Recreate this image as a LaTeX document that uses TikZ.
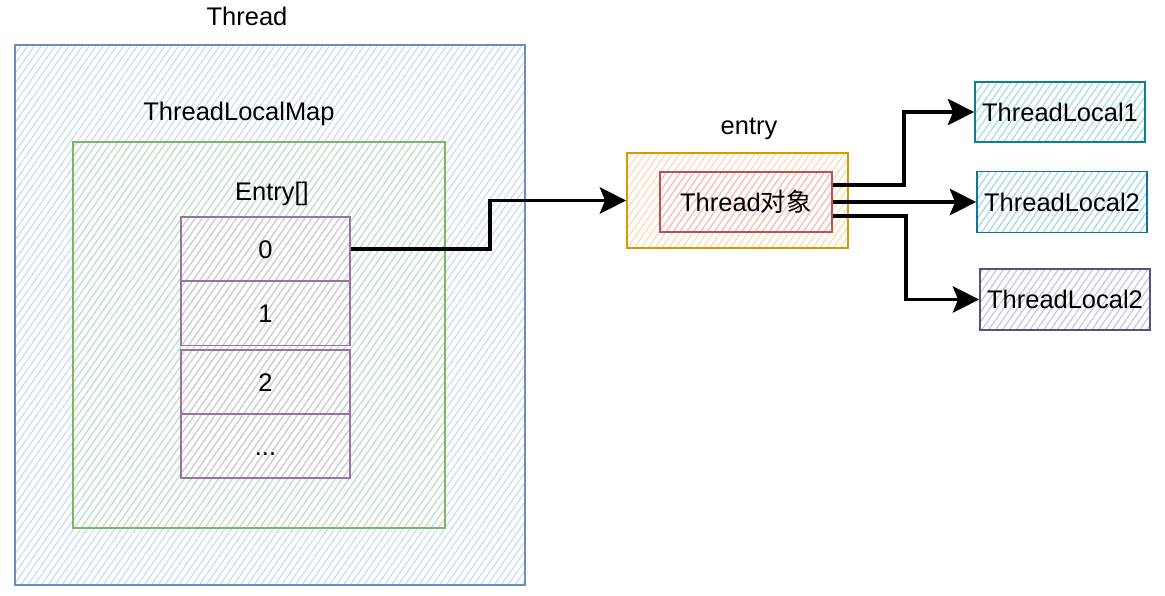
\documentclass[tikz,border=0pt]{standalone}
\usepackage{fontspec}
\setmainfont{Liberation Sans}
\newfontfamily\cjk{Noto Sans CJK SC}
\usetikzlibrary{arrows.meta,patterns.meta}
\definecolor{thrdraw}{HTML}{6C8EBF}\definecolor{thrfill}{HTML}{C9DCF7}
\definecolor{mapdraw}{HTML}{82B366}\definecolor{mapfill}{HTML}{C8E3C6}
\definecolor{celldraw}{HTML}{9673A6}\definecolor{cellfill}{HTML}{D8D0DC}
\definecolor{entdraw}{HTML}{D79B00}\definecolor{entfill}{HTML}{FFD9B3}
\definecolor{objdraw}{HTML}{B85450}\definecolor{objfill}{HTML}{F5C0BE}
\definecolor{tladraw}{HTML}{0E8088}\definecolor{tlafill}{HTML}{A6DDE0}
\definecolor{tlbdraw}{HTML}{10739E}\definecolor{tlbfill}{HTML}{A6D6EC}
\definecolor{tlcdraw}{HTML}{56517E}\definecolor{tlcfill}{HTML}{C8C5DE}
\newcommand{\celldots}{...}
\begin{document}
\begin{tikzpicture}
[x=0.02cm, y=-0.02cm, font=\fontsize{14.5}{17}\selectfont]
\tikzset{
  hatch/.style={pattern={Lines[angle=55,distance=3.2pt,line width=0.7pt]}, pattern color=#1},
  box/.style 2 args={draw=#1, line width=1pt, hatch=#2, inner sep=0pt},
  title/.style={inner sep=0pt, anchor=base},
  arr/.style={draw=black, line width=2pt, -{Stealth[length=15pt,width=15pt,inset=3pt]}}
}
\useasboundingbox (0,0) rectangle (1165,595);
% thread
\node[box={thrdraw}{thrfill}, minimum width=10.2cm, minimum height=10.8cm] (thread) at (270,315) {};
\node[title] (threadlbl) at (247,25) {Thread};
% map
\node[box={mapdraw}{mapfill}, minimum width=7.44cm, minimum height=7.72cm] (map) at (259,335) {};
\node[title] (maplbl) at (239,120) {ThreadLocalMap};
\node[title] (arrlbl) at (272,200) {Entry[]};
% entries
\foreach \i/\y/\t in {0/249/0, 1/313.5/1, 2/382/2, 3/446/\celldots}
  \node[box={celldraw}{cellfill}, minimum width=3.38cm, minimum height=1.28cm,
        text height=10.4pt, text depth=0pt] (c\i) at (265.5,\y) {\t};
% entry object
\node[box={entdraw}{entfill}, minimum width=4.42cm, minimum height=1.9cm] (entry) at (737.5,200.5) {};
\node[title] (entrylbl) at (749,134) {entry};
\node[box={objdraw}{objfill}, minimum width=3.44cm, minimum height=1.2cm] (obj) at (746,202) {Thread{\cjk 对象}};
% thread locals
\node[box={tladraw}{tlafill}, minimum width=3.4cm, minimum height=1.2cm] (tl1) at (1060,112) {ThreadLocal1};
\node[box={tlbdraw}{tlbfill}, minimum width=3.4cm, minimum height=1.22cm] (tl2) at (1062,202) {ThreadLocal2};
\node[box={tlcdraw}{tlcfill}, minimum width=3.4cm, minimum height=1.22cm] (tl3) at (1065,299.5) {ThreadLocal2};

\draw[arr] (c0.east) -- ++(139,0) |- (entry.west);
\draw[arr] ([yshift=0.34cm]obj.east) -- ++(71,0) |- (tl1.west);
\draw[arr] (obj.east) -- (tl2.west);
\draw[arr] ([yshift=-0.28cm]obj.east) -- ++(73,0) |- (tl3.west);
\end{tikzpicture}
\end{document}
